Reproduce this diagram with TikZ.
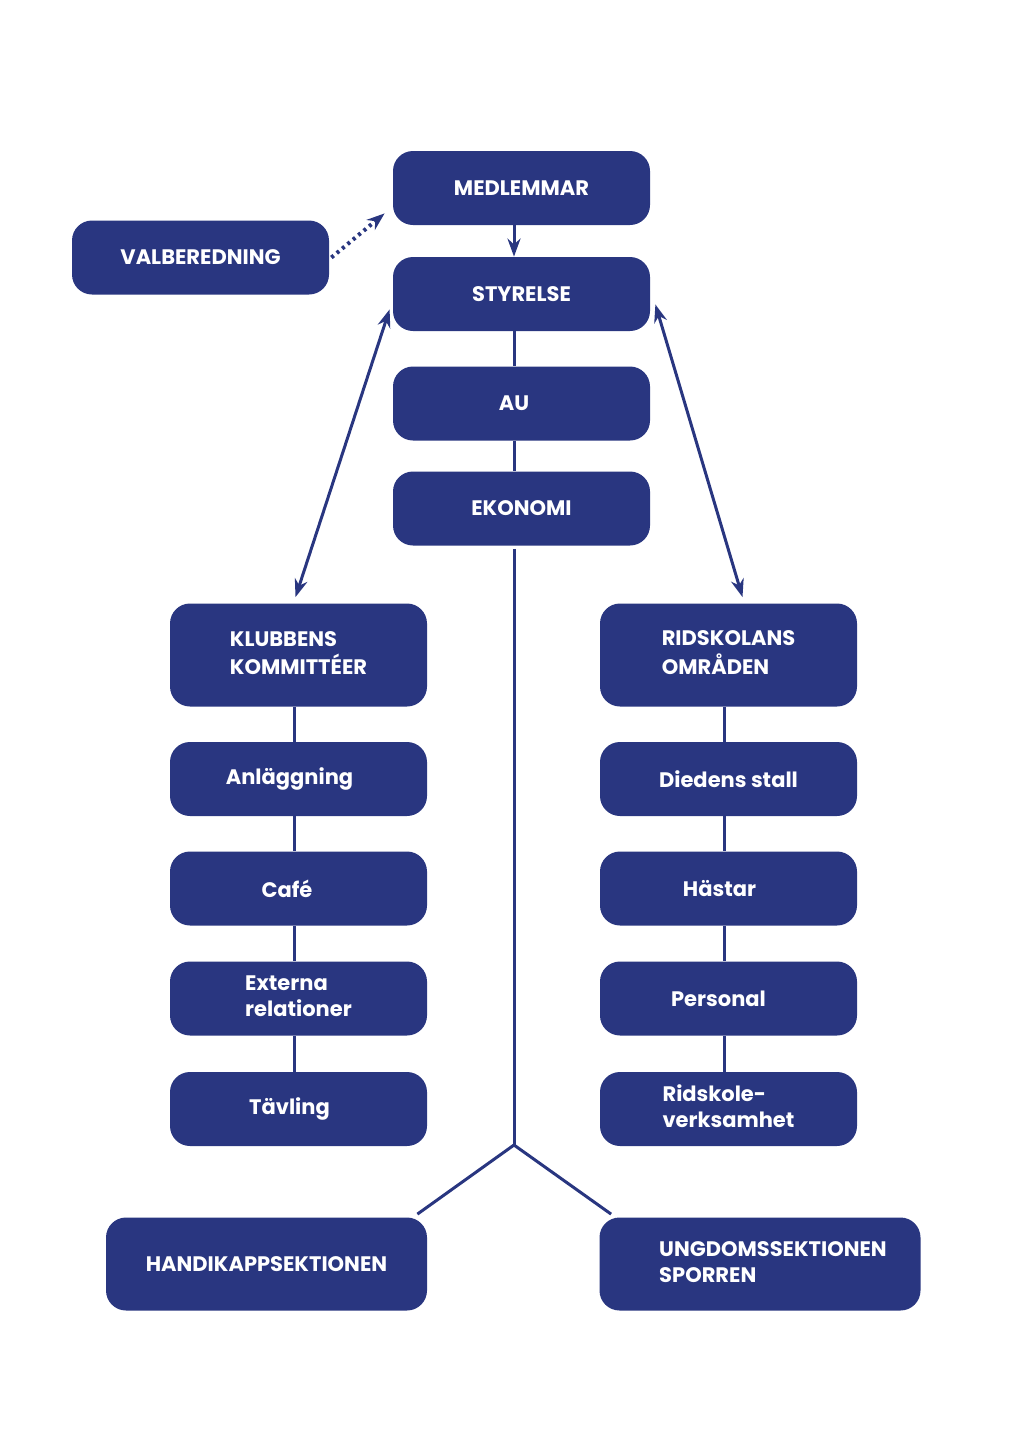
\documentclass[tikz,border=0pt]{standalone}
\usepackage{fontspec}
\setmainfont{Poppins}
\usetikzlibrary{arrows.meta,calc}
\definecolor{navy}{RGB}{41,54,128}
\tikzset{
  box/.style={draw=none, fill=navy, rounded corners=10pt, text=white,
    font=\fontsize{10.5}{13}\selectfont\bfseries, inner sep=0pt,
    minimum width=128.5pt, minimum height=37pt, align=center},
  widebox/.style={box, minimum width=160.5pt, minimum height=46.5pt},
  tallbox/.style={box, minimum height=51.5pt},
  conn/.style={draw=navy, line width=1.5pt},
  tip/.style={conn, -{Stealth[length=9pt,width=6.5pt]}},
  dtip/.style={conn, {Stealth[length=9pt,width=6.5pt]}-{Stealth[length=9pt,width=6.5pt]}},
}
\begin{document}
\begin{tikzpicture}[x=0.5pt,y=-0.5pt]
\useasboundingbox (0,0) rectangle (1024,1448);
% top column
\node[box] (med) at (521.5,188) {MEDLEMMAR};
\node[box] (val) at (200.5,257.5) {VALBEREDNING};
\node[box] (sty) at (521.5,294) {STYRELSE};
\node[box] (au) at (521.5,403.5) {\hspace*{-7.5pt}AU};
\node[box] (eko) at (521.5,508.5) {EKONOMI};
% left column
\node[tallbox] (klu) at (298.5,655) {\begin{tabular}{@{}l@{}}KLUBBENS\\KOMMITTÉER\end{tabular}};
\node[box] (anl) at (298.5,779) {\hspace*{-9pt}Anläggning};
\node[box] (caf) at (298.5,888.5) {\hspace*{-11.5pt}Café};
\node[box] (ext) at (298.5,998.5) {\begin{tabular}{@{}l@{}}Externa\\relationer\end{tabular}};
\node[box] (tav) at (298.5,1109) {\hspace*{-9pt}Tävling};
% right column
\node[tallbox] (rid) at (728.5,655) {\begin{tabular}{@{}l@{}}RIDSKOLANS\\OMRÅDEN\end{tabular}};
\node[box] (die) at (728.5,779) {Diedens stall};
\node[box] (has) at (728.5,888.5) {\hspace*{-9pt}Hästar};
\node[box] (per) at (728.5,998.5) {\hspace*{-10pt}Personal};
\node[box] (rsk) at (728.5,1109) {\begin{tabular}{@{}l@{}}Ridskole-\\verksamhet\end{tabular}};
% bottom
\node[widebox] (han) at (266.5,1264) {HANDIKAPPSEKTIONEN};
\node[widebox] (ung) at (760,1264) {\hspace*{13pt}\begin{tabular}{@{}l@{}}UNGDOMSSEKTIONEN\\SPORREN\end{tabular}};
% connectors
\coordinate (fork) at (514,1145);
\draw[tip] ($(med.south)+(-7.5,0)$) -- ($(sty.north)+(-7.5,0)$);
\draw[conn] ($(sty.south)+(-7.5,0)$) -- ($(au.north)+(-7.5,0)$);
\draw[conn] ($(au.south)+(-7.5,0)$) -- ($(eko.north)+(-7.5,0)$);
\draw[conn] ($(eko.south)+(-7.5,3)$) -- (fork);
\draw[conn] (fork) -- ($(han.north east)+(-10,-3)$);
\draw[conn] (fork) -- ($(ung.north west)+(12,-3)$);
\draw[conn, dotted, line width=2pt, -{Stealth[length=9pt,width=6.5pt]}] ($(val.east)+(2,0)$) -- ($(med.south west)+(-8,-12)$);
\draw[dtip] ($(sty.south west)+(-3,-22)$) -- ($(klu.north)+(-3,-6)$);
\draw[dtip] ($(sty.south east)+(5,-27)$) -- ($(rid.north)+(14,-6)$);
\foreach \a/\b in {klu/anl,anl/caf,caf/ext,ext/tav}
  \draw[conn] ($(\a.south)+(-4.5,0)$) -- ($(\b.north)+(-4.5,0)$);
\foreach \a/\b in {rid/die,die/has,has/per,per/rsk}
  \draw[conn] ($(\a.south)+(-4.5,0)$) -- ($(\b.north)+(-4.5,0)$);
\end{tikzpicture}
\end{document}
